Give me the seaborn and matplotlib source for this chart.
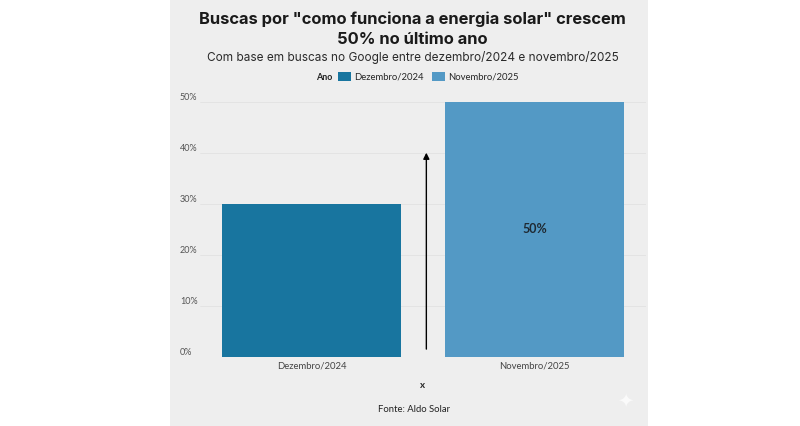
import matplotlib
matplotlib.use("Agg")
import matplotlib.pyplot as plt
import seaborn as sns
import pandas as pd
from matplotlib.patches import Rectangle

# data
categories = ["Dezembro/2024", "Novembro/2025"]
values = [30, 50]
y_ticks = [0, 10, 20, 30, 40, 50]
arrow_from = 1
arrow_to = 40.6

title = 'Buscas por "como funciona a energia solar" crescem\n50% no último ano'
subtitle = "Com base em buscas no Google entre dezembro/2024 e novembro/2025"
source = "Fonte: Aldo Solar"
colors = ["#18759f", "#5399c5"]

df = pd.DataFrame({"x": categories, "y": values, "Ano": categories})

sns.set_theme(style="white")
plt.rcParams["font.family"] = ["Lato", "DejaVu Sans"]

fig = plt.figure(figsize=(8, 4.26), dpi=100)
fig.patch.set_facecolor("white")
fig.patches.append(Rectangle((170 / 800, 0), 478 / 800, 1, transform=fig.transFigure,
                             facecolor="#eeeeee", edgecolor="none", zorder=-10))

ax = fig.add_axes([0.25, 0.162, 0.5575, 0.5986])
ax.set_facecolor("none")

sns.barplot(data=df, x="x", y="y", hue="Ano", palette=colors, dodge=False,
            width=0.8, saturation=1, legend=True, linewidth=0, ax=ax)

ax.set_xlim(-0.5, 1.5)
ax.set_ylim(0, 50)
ax.set_yticks(y_ticks)
ax.set_yticklabels([f"{t}%" for t in y_ticks])
ax.yaxis.grid(True, color="#e2e2e2", lw=0.6)
ax.set_axisbelow(True)
for s in ax.spines.values():
    s.set_visible(False)

ax.tick_params(axis="y", length=0, pad=14.4, labelsize=6.5, labelcolor="#555555")
ax.tick_params(axis="x", length=0, pad=3.5, labelsize=6.8, labelcolor="#444444")
for lbl in ax.get_yticklabels():
    lbl.set_ha("left")
    lbl.set_va("bottom")

ax.set_xlabel("x", fontsize=7, fontweight="bold", labelpad=7)
ax.set_ylabel("")

# value label only on the latest bar
ax.bar_label(ax.containers[1], labels=[f"{values[1]}%"], label_type="center",
             fontsize=9, fontweight="bold", color="#1f2a33")

# growth arrow between bars
ax.annotate("", xy=(0.515, arrow_to), xytext=(0.515, arrow_from),
            arrowprops=dict(arrowstyle="-|>", color="black", lw=1, mutation_scale=9))

# legend: "Ano" title to the left
handles, labels = ax.get_legend_handles_labels()
ax.legend(handles, labels, ncol=2, frameon=False, fontsize=6.8,
          loc="center left", bbox_to_anchor=(338 / 800, 1 - 77 / 426),
          bbox_transform=fig.transFigure, handlelength=1.4, handleheight=1.1,
          handletextpad=0.3, columnspacing=0.9, borderaxespad=0, borderpad=0)
fig.text(316 / 800, 1 - 77 / 426, "Ano", fontsize=6.5, fontweight="bold",
         ha="left", va="center", color="#222222")

fig.text(412 / 800, 1 - 29 / 426, title, fontsize=11.9, fontweight="bold",
         ha="center", va="center", linespacing=1.4, color="#1a1a1a",
         family=["Inter", "DejaVu Sans"])
fig.text(413 / 800, 1 - 57 / 426, subtitle, fontsize=8.5, ha="center", va="center",
         color="#2a2a2a", family=["Inter", "DejaVu Sans"])
fig.text(414 / 800, 1 - 409 / 426, source, fontsize=6.8, ha="center", va="center",
         color="#222222")
fig.text(625 / 800, 1 - 401 / 426, "\u2726", fontsize=14, ha="center", va="center",
         color="#fafafa", family=["DejaVu Sans"])

fig.savefig("out.png", dpi=100)
